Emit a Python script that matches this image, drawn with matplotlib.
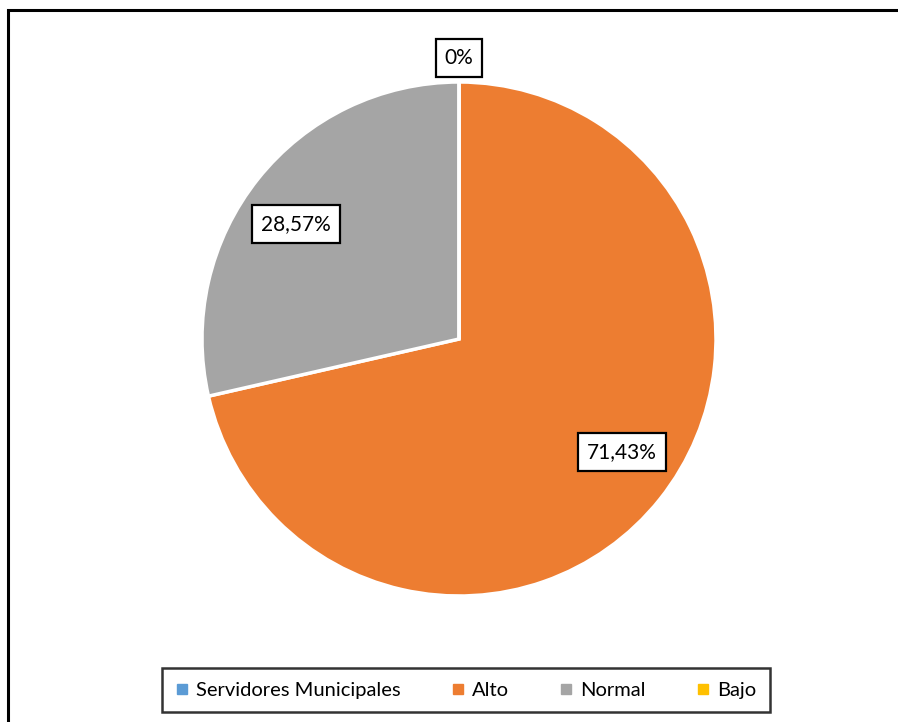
import matplotlib
matplotlib.use('Agg')
import numpy as np
import matplotlib.pyplot as plt
from matplotlib.patches import Rectangle
from matplotlib.lines import Line2D

# ─── Data ─────────────────────────────────────────────────────────────────────
categories = ['Servidores Municipales', 'Alto', 'Normal', 'Bajo']
values = [0.0, 71.43, 28.57, 0.0]
labels = [None, '71,43%', '28,57%', '0%']
colors = ['#5B9BD5', '#ED7D31', '#A5A5A5', '#FFC000']

FONT = ['Lato', 'DejaVu Sans']
plt.rcParams['font.family'] = FONT

W, H = 898, 722
fig = plt.figure(figsize=(W / 100, H / 100), dpi=100)
fig.patch.set_facecolor('white')

# outer frame (right/bottom edges run off the picture)
fig.patches.append(Rectangle((8 / W, -0.05), 1.2, 1 - 10 / H + 0.05,
                             transform=fig.transFigure, fill=False,
                             edgecolor='black', linewidth=2.2))

# pie axes: centre (459, 339), radius 257 px
cx, cy, r = 459, 339, 257
ax = fig.add_axes([(cx - r) / W, (H - cy - r) / H, 2 * r / W, 2 * r / H])

wedges, _ = ax.pie(values, colors=colors, startangle=90, counterclock=False,
                   radius=1.0, wedgeprops=dict(edgecolor='white', linewidth=2.5))
ax.set_xlim(-1, 1)
ax.set_ylim(-1, 1)
ax.set_aspect('equal')
ax.axis('off')

# label placement: (radial distance, angular nudge in degrees)
place = [None, (0.772, 3.9), (0.776, 3.4), (1.094, 0.0)]
for w, lab, p in zip(wedges, labels, place):
    if lab is None:
        continue
    d, nudge = p
    ang = np.deg2rad((w.theta1 + w.theta2) / 2 + nudge)
    ax.text(d * np.cos(ang), d * np.sin(ang), lab, ha='center', va='center',
            fontsize=15, color='black', clip_on=False, zorder=5,
            bbox=dict(facecolor='white', edgecolor='black', linewidth=1.6,
                      boxstyle='square,pad=0.42'))

handles = [Line2D([], [], marker='s', linestyle='none', markersize=7,
                  markerfacecolor=c, markeredgecolor=c) for c in colors]
leg = fig.legend(handles, categories, loc='center',
                 bbox_to_anchor=(466 / W, 1 - 690 / H), ncol=4,
                 frameon=True, fancybox=False, fontsize=14.5,
                 handlelength=0.6, handletextpad=0.4, columnspacing=2.55,
                 borderpad=0.65, borderaxespad=0)
leg.get_frame().set_edgecolor('black')
leg.get_frame().set_linewidth(1.8)

fig.savefig('out.png', dpi=100, facecolor='white')
